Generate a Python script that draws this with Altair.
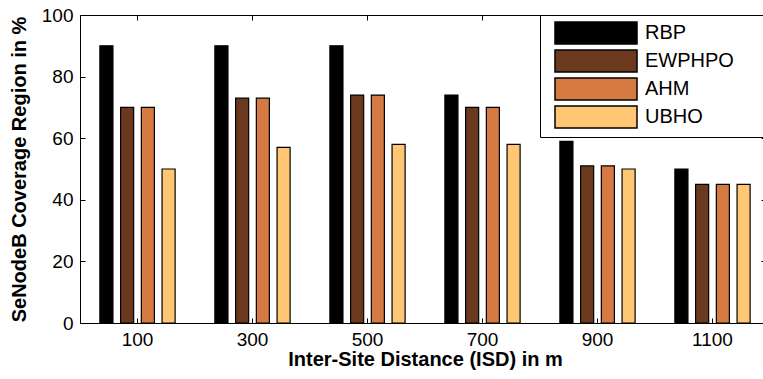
import altair as alt
import pandas as pd

# ---- data ----
isd = ["100", "300", "500", "700", "900", "1100"]
series = ["RBP", "EWPHPO", "AHM", "UBHO"]
rbp = [90, 90, 90, 74, 59, 50]
ewphpo = [70, 73, 74, 70, 51, 45]
ahm = [70, 73, 74, 70, 51, 45]
ubho = [50, 57, 58, 58, 50, 45]
colors = ["#000000", "#6B3A1E", "#D67A43", "#FFC774"]
y_ticks = [0, 20, 40, 60, 80, 100]

rows = []
for name, vals in zip(series, [rbp, ewphpo, ahm, ubho]):
    for d, v in zip(isd, vals):
        rows.append({"isd": d, "series": name, "value": v})
df = pd.DataFrame(rows)

W, H = 683, 308
FONT = "Liberation Sans"
PAD_TAIL = "\u00a0" * 5 + "\u200b"

base = alt.Chart(df)

bars = base.mark_bar(stroke="black", strokeWidth=1.2).encode(
    x=alt.X(
        "isd:O", sort=isd,
        scale=alt.Scale(range=[0, 690], paddingInner=0, paddingOuter=0),
        axis=alt.Axis(orient="bottom", title="Inter-Site Distance (ISD) in m",
                      ticks=False, labelAngle=0, labelPadding=7, titlePadding=0,
                      domain=True),
    ),
    xOffset=alt.XOffset("series:N", sort=series,
                        scale=alt.Scale(paddingInner=0.37, paddingOuter=0.96)),
    y=alt.Y(
        "value:Q",
        scale=alt.Scale(domain=[0, 100], nice=False),
        axis=alt.Axis(orient="left", title="SeNodeB Coverage Region in %",
                      values=y_ticks, ticks=False, labelPadding=7,
                      titlePadding=12, domain=True),
    ),
    color=alt.Color(
        "series:N", sort=series,
        scale=alt.Scale(domain=series, range=colors),
        legend=alt.Legend(
            orient="none", legendX=460, legendY=0, title=None,
            symbolType="M-3.727,-1H3.727V1H-3.727Z", symbolSize=484,
            symbolStrokeColor="black", symbolStrokeWidth=1.5,
            symbolOffset=38, labelOffset=37,
            labelFont=FONT, labelFontSize=20, labelColor="black",
            padding=6, rowPadding=0, labelLimit=400,
            strokeColor="black", fillColor="white",
            labelExpr="datum.label + '" + PAD_TAIL + "'",
        ),
    ),
)

tick_b = base.mark_point(opacity=0).encode(
    x=alt.X("isd:O", sort=isd,
            axis=alt.Axis(orient="bottom", offset=-H, labels=False, title=None,
                          ticks=True, tickSize=5, domain=True)),
    y=alt.Y("value:Q",
            axis=alt.Axis(orient="right", offset=-W, labels=False, title=None,
                          ticks=True, tickSize=5, domain=False, values=y_ticks)),
)

tick_c = base.mark_point(opacity=0).encode(
    x=alt.X("isd:O", sort=isd,
            axis=alt.Axis(orient="top", offset=-H, labels=False, title=None,
                          ticks=True, tickSize=5, domain=False)),
    y=alt.Y("value:Q",
            axis=alt.Axis(orient="left", offset=-687, labels=False, title=None,
                          ticks=True, tickSize=6, domain=False, values=y_ticks)),
)

chart = (
    alt.layer(bars, tick_b, tick_c)
    .resolve_scale(x="shared", y="shared")
    .resolve_axis(x="independent", y="independent")
    .properties(
        width=W, height=H,
        autosize=alt.AutoSizeParams(type="none"),
        padding={"left": 80, "top": 15, "right": 0, "bottom": 56},
        background="white",
    )
    .configure_view(stroke=None)
    .configure_axis(
        labelFont=FONT, labelFontSize=19, labelColor="black",
        titleFont=FONT, titleFontSize=20, titleFontWeight="bold",
        titleColor="black", domainColor="black", tickColor="black",
        domainWidth=1, tickWidth=1, grid=False,
    )
)

chart.save("out.html", embed_options={"renderer": "svg", "actions": False})
